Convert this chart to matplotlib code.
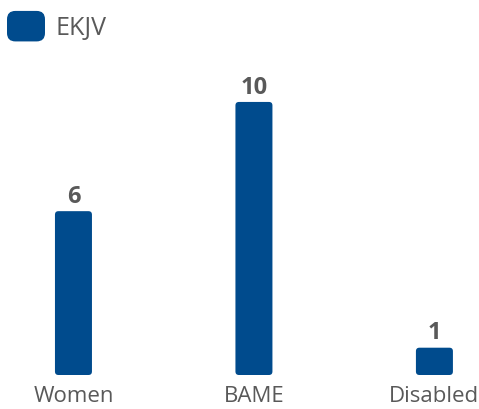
import matplotlib.pyplot as plt
from matplotlib.patches import FancyBboxPatch
from matplotlib.legend_handler import HandlerPatch

categories = ["Women", "BAME", "Disabled"]
values = [6, 10, 1]
series_name = "EKJV"

bar_color = "#004B8D"
text_color = "#595959"
plt.rcParams["font.family"] = ["Open Sans", "DejaVu Sans"]

fig = plt.figure(figsize=(4.79, 4.10), dpi=100)
# axes spans the full width; baseline sits 34 px above the bottom edge
ax = fig.add_axes([0, 34 / 410, 1, 376 / 410])
ax.set_xlim(-0.407, 2.247)
ax.set_ylim(0, 13.77)

bars = ax.bar(range(len(categories)), values, width=0.205, color=bar_color,
              label=series_name)

# swap plain rectangles for rounded ones
px_x = 1 / 180.5
px_y = 1 / 27.3
for b in bars:
    x, y = b.get_x(), b.get_y()
    w, h = b.get_width(), b.get_height()
    b.set_visible(False)
    rb = FancyBboxPatch((x, y), w, h,
                        boxstyle="round,pad=0,rounding_size=%f" % (3.5 * px_x),
                        mutation_aspect=px_y / px_x,
                        fc=bar_color, ec="none")
    ax.add_patch(rb)

for i, v in enumerate(values):
    ax.text(i, v + 0.12, str(v), ha="center", va="bottom", fontsize=17,
            fontweight="bold", color=text_color)

ax.set_xticks(range(len(categories)))
ax.set_xticklabels(categories, fontsize=16, color=text_color)
ax.tick_params(axis="x", length=0, pad=7)
ax.set_yticks([])
for s in ax.spines.values():
    s.set_visible(False)


class RoundHandler(HandlerPatch):
    def create_artists(self, legend, orig_handle, xdescent, ydescent,
                       width, height, fontsize, trans):
        p = FancyBboxPatch((-xdescent, -ydescent), width, height,
                           boxstyle="round,pad=0,rounding_size=6",
                           fc=bar_color, ec="none", transform=trans)
        return [p]


leg = fig.legend(handles=[bars], labels=[series_name], loc="upper left",
                 bbox_to_anchor=(0.0, 0.988), frameon=False, fontsize=18,
                 handlelength=1.52, handleheight=1.5, handletextpad=0.4,
                 borderpad=0.28, borderaxespad=0.0,
                 handler_map={type(bars): RoundHandler()})
for t in leg.get_texts():
    t.set_color(text_color)

fig.savefig("out.png", dpi=100)
